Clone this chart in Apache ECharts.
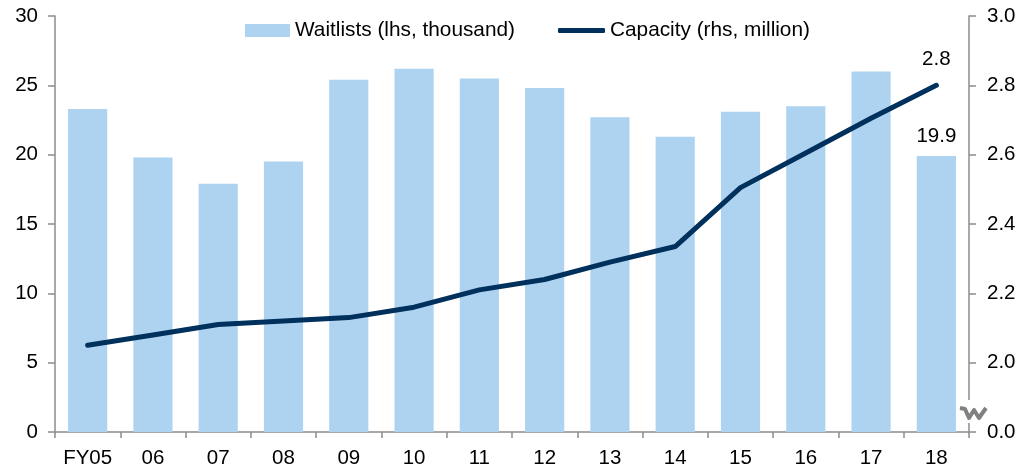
<!DOCTYPE html>
<html><head><meta charset="utf-8">
<style>html,body{margin:0;padding:0;background:#fff}#c{width:1026px;height:470px}</style>
<script src="https://cdn.jsdelivr.net/npm/echarts@6/dist/echarts.min.js"></script>
</head><body><div id="c"></div>
<script>
const categories = ['FY05','06','07','08','09','10','11','12','13','14','15','16','17','18'];
const waitlists = [23.3,19.8,17.9,19.5,25.4,26.2,25.5,24.8,22.7,21.3,23.1,23.5,26.0,19.9];
const capacity = [2.05,2.08,2.11,2.12,2.13,2.16,2.21,2.24,2.29,2.335,2.505,2.605,2.705,2.8];
const font = '"Liberation Sans", Arial, sans-serif';
const axisGrey = '#8c8c8c';
const fs = 20.5;
const lastLabel = (fmt, n) => (p) => p.dataIndex === n - 1 ? fmt(p.value) : '';
const chart = echarts.init(document.getElementById('c'), null, {renderer:'canvas'});
chart.setOption({
  animation:false,
  backgroundColor:'#fff',
  textStyle:{fontFamily:font,color:'#000'},
  grid:{left:55,right:57,top:16,bottom:38,containLabel:false},
  legend:[
    {top:15,left:240,itemWidth:45,itemHeight:13,
     textStyle:{fontFamily:font,fontSize:20.8,color:'#000'},
     data:[{name:'Waitlists (lhs, thousand)',icon:'rect'}]},
    {top:15,left:553,itemWidth:47,itemHeight:5,
     textStyle:{fontFamily:font,fontSize:20.8,color:'#000'},
     data:[{name:'Capacity (rhs, million)',icon:'roundRect'}]}
  ],
  xAxis:{
    type:'category',data:categories,
    boundaryGap:true,
    axisLine:{lineStyle:{color:axisGrey,width:1.5}},
    axisTick:{show:true,alignWithLabel:false,length:6,lineStyle:{color:axisGrey,width:1.5}},
    axisLabel:{fontFamily:font,fontSize:fs,color:'#000',margin:16,interval:0}
  },
  yAxis:[
    {type:'value',min:0,max:30,interval:5,position:'left',
     splitLine:{show:false},
     axisLine:{show:true,lineStyle:{color:axisGrey,width:1.5}},
     axisTick:{show:true,length:7,lineStyle:{color:axisGrey,width:1.5}},
     axisLabel:{fontFamily:font,fontSize:fs,color:'#000',margin:17}},
    {type:'value',min:1.8,max:3.0,interval:0.2,position:'right',
     splitLine:{show:false},
     axisLine:{show:true,lineStyle:{color:axisGrey,width:1.5}},
     axisTick:{show:true,length:7,lineStyle:{color:axisGrey,width:1.5}},
     axisLabel:{fontFamily:font,fontSize:fs,color:'#000',margin:18,
       formatter:v=>Math.abs(v-1.8)<1e-6?'0.0':v.toFixed(1)}}
  ],
  series:[
    {name:'Waitlists (lhs, thousand)',type:'bar',yAxisIndex:0,data:waitlists,barWidth:'60%',
     itemStyle:{color:'#aed3f0'},
     label:{show:true,position:'top',distance:9,fontFamily:font,fontSize:fs,color:'#000',
       formatter:lastLabel(v=>v.toFixed(1),waitlists.length)}},
    {name:'Capacity (rhs, million)',type:'line',yAxisIndex:1,data:capacity,
     symbol:'circle',symbolSize:0,showSymbol:true,showAllSymbol:true,smooth:false,
     lineStyle:{color:'#00305c',width:5,cap:'round',join:'round'},
     itemStyle:{color:'#00305c'},
     label:{show:true,position:'top',distance:15,fontFamily:font,fontSize:fs,color:'#000',
       formatter:lastLabel(v=>v.toFixed(1),capacity.length)}}
  ],
  graphic:[
    {type:'rect',z:50,shape:{x:962,y:400,width:14,height:23},style:{fill:'#fff'}},
    {type:'polyline',z:51,shape:{points:[[960,408],[965,409],[969,418],[974,410],[979,418],[986,408]]},
     style:{stroke:'#808080',fill:null,lineWidth:4,lineJoin:'round'}}
  ]
});
</script></body></html>
